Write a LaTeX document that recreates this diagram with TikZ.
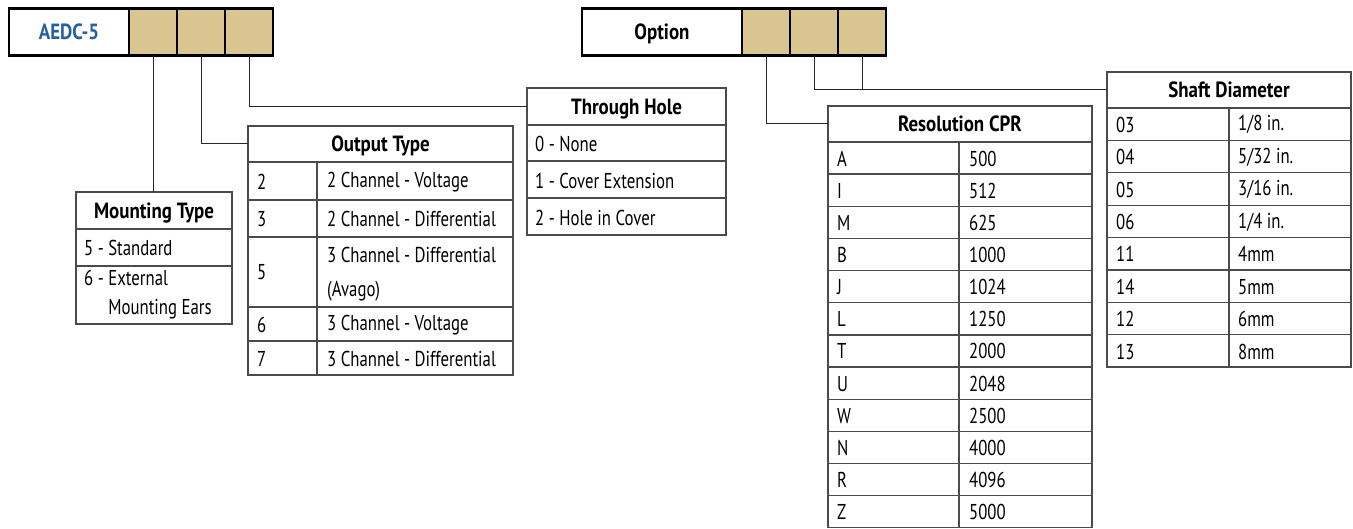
\documentclass[tikz,border=0pt]{standalone}
\usepackage{fontspec}
\setmainfont{PT Sans}[FakeStretch=0.78, BoldFeatures={FakeStretch=0.86}]
\usetikzlibrary{positioning}

\definecolor{codetan}{RGB}{217,197,143}
\definecolor{codeblue}{RGB}{40,95,160}
\definecolor{rulegray}{RGB}{75,75,75}

\tikzset{
  namebox/.style={draw=black, line width=2.6pt, fill=white, outer sep=0pt,
    minimum height=47pt, inner sep=0pt, text height=15.4pt, text depth=0pt,
    font=\fontsize{22}{25}\selectfont\bfseries},
  codebox/.style={draw=black, line width=2.6pt, fill=codetan, outer sep=0pt,
    minimum width=48pt, minimum height=47pt, inner sep=0pt},
  head/.style={draw=rulegray, line width=1.3pt, outer sep=0pt, inner sep=0pt,
    anchor=north west, text height=15.4pt, text depth=0pt,
    font=\fontsize{22}{25}\selectfont\bfseries},
  entry/.style={anchor=west, inner sep=0pt, align=left,
    font=\fontsize{21.5}{29}\selectfont},
  tablegrid/.style={draw=rulegray, line width=1.3pt},
  link/.style={draw=black!85, line width=1pt}
}

\begin{document}
\begin{tikzpicture}[x=1pt, y=-1pt]
  \useasboundingbox (0,0) rectangle (1353,529);

  % part number boxes
  \node[namebox, minimum width=120pt, text=codeblue] (aedc) at (69,32) {AEDC-5};
  \node[codebox, right=0pt of aedc] (aedcA) {};
  \node[codebox, right=0pt of aedcA] (aedcB) {};
  \node[codebox, right=0pt of aedcB] (aedcC) {};

  \node[namebox, minimum width=160pt] (opt) at (662,32) {Option};
  \node[codebox, right=0pt of opt] (optA) {};
  \node[codebox, right=0pt of optA] (optB) {};
  \node[codebox, right=0pt of optB] (optC) {};

  % mounting type
  \node[head, minimum width=156pt, minimum height=37pt] (mounthead) at (76,192) {Mounting Type};
  \draw[tablegrid] (mounthead.south west) rectangle (232,324);
  \draw[tablegrid] (76,266) -- (232,266);
  \node[entry] (mount5) at (84,248) {5 - Standard};
  \node[entry] (mount6) at (84,295) {6 - External\\\hphantom{6 - }Mounting Ears};

  % output type
  \node[head, minimum width=265pt, minimum height=36pt] (outhead) at (248,126) {Output Type};
  \draw[tablegrid] (outhead.south west) rectangle (513,375);
  \draw[tablegrid] (317,162) -- (317,375);
  \foreach \y in {200,237,307,341}
    \draw[tablegrid] (248,\y) -- (513,\y);
  \foreach \code/\kind/\y in {2/2 Channel - Voltage/182, 3/2 Channel - Differential/219,
      6/3 Channel - Voltage/325, 7/3 Channel - Differential/359} {
    \node[entry] (outcode\code) at (257,\y) {\code};
    \node[entry] (outkind\code) at (327,\y) {\kind};
  }
  \node[entry] (outcode5) at (257,272) {5};
  \node[entry] (outkind5) at (327,274.5) {3 Channel - Differential\\[5pt](Avago)};

  % through hole
  \node[head, minimum width=199pt, minimum height=37pt] (thruhead) at (527,88) {Through Hole};
  \draw[tablegrid] (thruhead.south west) rectangle (726,235);
  \draw[tablegrid] (527,161) -- (726,161) (527,198) -- (726,198);
  \node[entry] (thru0) at (535,144) {0 - None};
  \node[entry] (thru1) at (535,180.5) {1 - Cover Extension};
  \node[entry] (thru2) at (535,217.5) {2 - Hole in Cover};

  % resolution
  \node[head, minimum width=264pt, minimum height=36pt] (reshead) at (828,106) {Resolution CPR};
  \draw[tablegrid] (reshead.south west) rectangle (1092,527.8);
  \draw[tablegrid] (959,142) -- (959,527.8);
  \foreach \i in {1,...,11}
    \draw[tablegrid] (828,{142+\i*32.15}) -- (1092,{142+\i*32.15});
  \foreach \code/\cpr [count=\i] in {A/500, I/512, M/625, B/1000, J/1024, L/1250,
      T/2000, U/2048, W/2500, N/4000, R/4096, Z/5000} {
    \node[entry] (rescode\i) at (837,{142.5+(\i-0.5)*32.15}) {\code};
    \node[entry] (rescpr\i) at (969,{142.5+(\i-0.5)*32.15}) {\cpr};
  }

  % shaft diameter
  \node[head, minimum width=244pt, minimum height=36pt] (shafthead) at (1107,72) {Shaft Diameter};
  \draw[tablegrid] (shafthead.south west) rectangle (1351,367);
  \draw[tablegrid] (1229,108) -- (1229,367);
  \foreach \i in {1,...,7}
    \draw[tablegrid] (1107,{108+\i*32.4}) -- (1351,{108+\i*32.4});
  \foreach \code/\size [count=\i] in {03/1\slash 8 in., 04/5\slash 32 in., 05/3\slash 16 in.,
      06/1\slash 4 in., 11/4mm, 14/5mm, 12/6mm, 13/8mm} {
    \node[entry] (shaftcode\i) at (1116,{108.5+(\i-0.5)*32.4}) {\code};
    \node[entry] (shaftsize\i) at (1238,{108.5+(\i-0.5)*32.4}) {\size};
  }

  % connectors
  \draw[link] (aedcA.south) -- (aedcA.south |- mounthead.north);
  \draw[link] (aedcB.south) |- (outhead.west);
  \draw[link] (aedcC.south) |- (thruhead.west);
  \draw[link] (optA.south) |- (reshead.west);
  \draw[link] (optB.south) |- (shafthead.west);
  \draw[link] (optC.south) -- (optC.south |- shafthead.west);
\end{tikzpicture}
\end{document}
